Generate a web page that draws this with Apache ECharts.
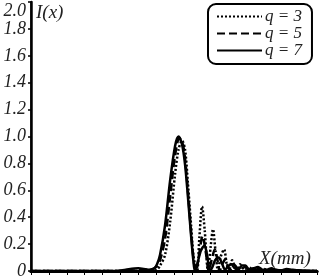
<!DOCTYPE html>
<html>
<head>
<meta charset="utf-8">
<style>
  html, body { margin: 0; padding: 0; background: #fff; }
  #main { width: 320px; height: 280px; }
</style>
<script src="https://cdn.jsdelivr.net/npm/echarts@6/dist/echarts.min.js"></script>
</head>
<body>
<div id="main"></div>
<script>
// legend names
var names = ['q = 3', 'q = 5', 'q = 7'];

// y ticks
var yTicks = [0, 0.2, 0.4, 0.6, 0.8, 1.0, 1.2, 1.4, 1.6, 1.8, 2.0];

// [X, I]
var q3 = [[0,0],[6.8,0],[7.05,0.01],[7.22,0.04],[7.5,0.12],[7.78,0.36],[8.06,0.72],[8.25,0.9],[8.45,0.97],[8.62,0.9],
  [8.78,0.65],[8.95,0.35],[9.1,0.1],[9.29,0],[9.42,0.25],[9.57,0.48],[9.72,0.3],[9.9,0],[10.05,0.18],[10.18,0.31],
  [10.32,0.15],[10.46,0],[10.6,0.1],[10.8,0.16],[10.95,0.05],[11.08,0],[11.25,0.08],[11.4,0.03],[11.55,0],[11.7,0.05],
  [11.85,0.02],[12.05,0],[12.2,0.03],[12.4,0.01],[12.6,0.02],[12.8,0.005],[13.0,0.015],[13.3,0.005],[13.6,0.01],[14,0],[16,0]];

var q5 = [[0,0],[5.5,0],[6.2,0.01],[6.7,0.01],[7.0,0.03],[7.22,0.08],[7.5,0.24],[7.78,0.55],[8.06,0.86],[8.3,0.99],
  [8.5,0.94],[8.66,0.78],[8.82,0.52],[8.98,0.25],[9.12,0.06],[9.23,0],[9.4,0.12],[9.6,0.26],[9.78,0.14],[9.95,0],
  [10.1,0.08],[10.28,0.16],[10.45,0.07],[10.55,0],[10.7,0.05],[10.88,0.09],[11.02,0.03],[11.15,0.01],[11.35,0.05],
  [11.55,0.02],[11.75,0.01],[11.95,0.03],[12.15,0.01],[12.4,0.02],[12.65,0.01],[12.9,0.015],[13.2,0.005],[13.5,0.01],[14,0],[16,0]];

var q7 = [[0,0],[4.8,0],[5.3,0.01],[6.0,0.02],[6.6,0.01],[6.9,0.02],[7.05,0.05],[7.22,0.12],[7.5,0.34],[7.78,0.67],
  [8.06,0.93],[8.25,1.0],[8.45,0.94],[8.62,0.79],[8.78,0.55],[8.95,0.27],[9.08,0.08],[9.17,0],[9.3,0.05],[9.5,0.15],
  [9.7,0.19],[9.85,0.12],[10.01,0],[10.15,0.03],[10.3,0.08],[10.5,0.1],[10.7,0.05],[10.85,0.01],[11.0,0.03],[11.2,0.05],
  [11.4,0.02],[11.6,0.01],[11.8,0.04],[12.0,0.04],[12.2,0.01],[12.45,0.02],[12.7,0.03],[12.95,0.01],[13.2,0.01],
  [13.45,0.02],[13.7,0.01],[14.0,0.005],[14.3,0.015],[14.6,0.01],[15.0,0.005],[16,0]];

var serif = '"Liberation Serif", "DejaVu Serif", serif';

var dom = document.getElementById('main');
var myChart = echarts.init(dom);

function lineSeries(name, data, type) {
    return {
        name: name,
        type: 'line',
        data: data,
        smooth: 0.3,
        symbol: 'none',
        xAxisIndex: 0,
        yAxisIndex: 0,
        lineStyle: { color: '#000', width: 2.5, type: type },
        itemStyle: { color: '#000' }
    };
}

var option = {
    animation: false,
    backgroundColor: '#fff',
    grid: { left: 31, right: 3, top: 2, bottom: 5 },
    legend: {
        orient: 'vertical',
        left: 208,
        top: 4,
        data: names,
        itemWidth: 45,
        itemHeight: 12,
        itemGap: 0,
        padding: [4, 10, 5, 8],
        borderColor: '#000',
        borderWidth: 2,
        borderRadius: 8,
        backgroundColor: '#fff',
        itemStyle: { opacity: 0, borderWidth: 0 },
        textStyle: { fontFamily: serif, fontStyle: 'italic', fontSize: 17, lineHeight: 16, color: '#222', padding: [0, 0, 0, -2] }
    },
    xAxis: [{
        type: 'value', min: 0, max: 16, interval: 1,
        axisLine: { lineStyle: { color: '#000', width: 3 } },
        axisTick: { show: true, inside: false, length: 4, lineStyle: { color: '#000', width: 1 } },
        axisLabel: { show: false },
        splitLine: { show: false }
    }, {
        type: 'value', min: 0, max: 16, position: 'top',
        axisLine: { show: true, lineStyle: { color: '#000', width: 3 } },
        axisTick: { show: false }, axisLabel: { show: false }, splitLine: { show: false }
    }],
    yAxis: [{
        type: 'value', min: 0, max: 2, interval: 0.2,
        axisLine: { show: true, lineStyle: { color: '#000', width: 2.5 } },
        axisTick: { show: true, inside: false, length: 3, lineStyle: { color: '#000', width: 1.5 } },
        axisLabel: {
            fontFamily: serif, fontStyle: 'italic', fontSize: 18, color: '#222', margin: 5,
            verticalAlignMaxLabel: 'top',
            customValues: yTicks,
            formatter: function (v) { return v === 0 ? '0' : v.toFixed(1); }
        },
        splitLine: { show: false }
    }, {
        type: 'value', min: 0, max: 2, position: 'right',
        axisLine: { show: true, lineStyle: { color: '#000', width: 1.5 } },
        axisTick: { show: false }, axisLabel: { show: false }, splitLine: { show: false }
    }],
    graphic: [{
        type: 'text', left: 36, top: 3,
        style: { text: 'I(x)', font: 'italic 19px ' + serif, fill: '#222' }
    }, {
        type: 'text', left: 259, top: 249,
        style: { text: 'X(mm)', font: 'italic 19px ' + serif, fill: '#222' }
    }],
    series: [
        lineSeries(names[0], q3, [2, 2]),
        lineSeries(names[1], q5, [8, 4]),
        lineSeries(names[2], q7, 'solid')
    ]
};

myChart.setOption(option);
</script>
</body>
</html>
